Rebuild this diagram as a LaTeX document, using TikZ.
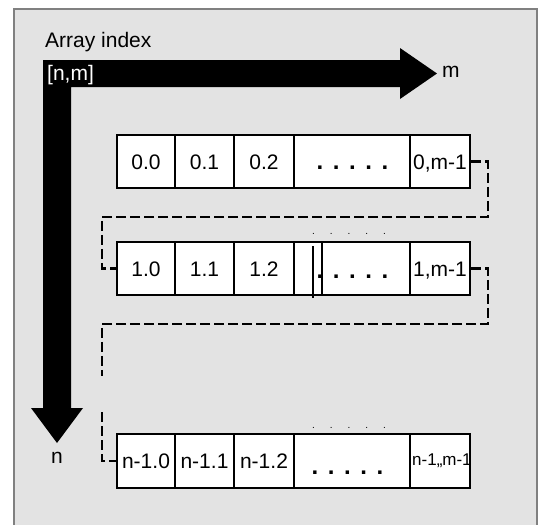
\documentclass[tikz,border=0pt]{standalone}
\usepackage{fontspec}
\setmainfont{Liberation Sans}

\definecolor{panelgray}{RGB}{227,227,227}
\definecolor{framegray}{RGB}{128,128,128}
\newcommand{\rowdots}{\bfseries .\hspace{9.6pt}.\hspace{9.6pt}.\hspace{9.6pt}.\hspace{9.6pt}.}
\newcommand{\gapdots}{.\hspace{15pt}.\hspace{15pt}.\hspace{15pt}.\hspace{15pt}.}

\tikzset{
  cell/.style={draw, line width=2.6pt, fill=white, minimum height=53pt, inner sep=0pt,
    text height=15pt, text depth=0pt, font=\fontsize{21}{25}\selectfont},
  link/.style={line width=2.6pt, dash pattern=on 10pt off 4pt},
  tag/.style={inner sep=0pt, font=\fontsize{21}{25}\selectfont}
}

\begin{document}
\begin{tikzpicture}[x=1pt,y=1pt,yscale=-1]
    \useasboundingbox (0,0) rectangle (542,525);

    %Shape: Panel
    \draw [framegray, line width=1.4pt, fill=panelgray] (14,9) rectangle (537,540);

    %Shape: Index arrows
    \fill (43,60) -- (400,60) -- (400,48) -- (437,73.5) -- (400,99) -- (400,87) -- (71,87) -- (71,408) -- (83,408) -- (57,443) -- (31,408) -- (43,408) -- cycle;

    % Text Node
    \node [tag, anchor=base west] (title) at (45,47) {Array index};
    % Text Node
    \node [tag, anchor=base west, text=white] (idx) at (47,80) {[n,m]};
    % Text Node
    \node [tag, anchor=base west] (mlab) at (442,77) {m};
    % Text Node
    \node [tag, anchor=base] (nlab) at (57,463) {n};

    %Shape: Row 0
    \node [cell, minimum width=58pt] (r0a) at (146,161.5) {0.0};
    \node [cell, minimum width=59pt] (r0b) at (204.5,161.5) {0.1};
    \node [cell, minimum width=60pt] (r0c) at (264,161.5) {0.2};
    \node [cell, minimum width=116pt] (r0d) at (352,161.5) {};
    \node [cell, minimum width=60pt] (r0e) at (440,161.5) {0,m-1};
    \node [tag, anchor=base, font=\fontsize{24}{28}\selectfont] (d0) at (352.5,169.5) {\rowdots};

    %Shape: Row 1
    \node [cell, minimum width=58pt] (r1a) at (146,268.5) {1.0};
    \node [cell, minimum width=59pt] (r1b) at (204.5,268.5) {1.1};
    \node [cell, minimum width=60pt] (r1c) at (264,268.5) {1.2};
    \node [cell, minimum width=28pt] (r1d) at (308,268.5) {};
    \node [cell, minimum width=88pt] (r1e) at (366,268.5) {};
    \node [cell, minimum width=60pt] (r1f) at (440,268.5) {1,m-1};
    \draw [line width=2.4pt] (313,246) -- (313,298);
    \node [tag, anchor=base, font=\fontsize{24}{28}\selectfont] (d1) at (352.5,278.5) {\rowdots};
    \node [tag, anchor=base, font=\fontsize{10}{12}\selectfont] (s1) at (349,234) {\gapdots};

    %Shape: Row n-1
    \node [cell, minimum width=58pt, minimum height=54pt] (rna) at (146,461) {n-1.0};
    \node [cell, minimum width=59pt, minimum height=54pt] (rnb) at (204.5,461) {n-1.1};
    \node [cell, minimum width=60pt, minimum height=54pt] (rnc) at (264,461) {n-1.2};
    \node [cell, minimum width=116pt, minimum height=54pt] (rnd) at (352,461) {};
    \node [cell, minimum width=60pt, minimum height=54pt] (rne) at (440,461) {};
    \begin{scope}
      \clip (rne.south west) rectangle ([xshift=-1.3pt]rne.north east);
      \node [anchor=base west, inner sep=0pt, font=\fontsize{17}{20}\selectfont] (rnetxt) at (412,465) {n-1,,m-1};
    \end{scope}
    \node [tag, anchor=base, font=\fontsize{24}{28}\selectfont] (dn) at (347.5,474.5) {\rowdots};
    \node [tag, anchor=base, font=\fontsize{10}{12}\selectfont] (sn) at (349,428) {\gapdots};

    %Straight Lines: row links
    \coordinate (t0) at (488,217);
    \coordinate (l0) at (102,217);
    \draw [link] (r0e.east) -| (t0) -- (l0) |- (r1a.west);
    \coordinate (t1) at (488,324);
    \coordinate (l1) at (102,324);
    \coordinate (g1) at (102,376);
    \coordinate (g2) at (102,412);
    \draw [link] (r1f.east) -| (t1) -- (l1) -- (g1);
    \draw [link] (g2) |- (rna.west);

\end{tikzpicture}
\end{document}
